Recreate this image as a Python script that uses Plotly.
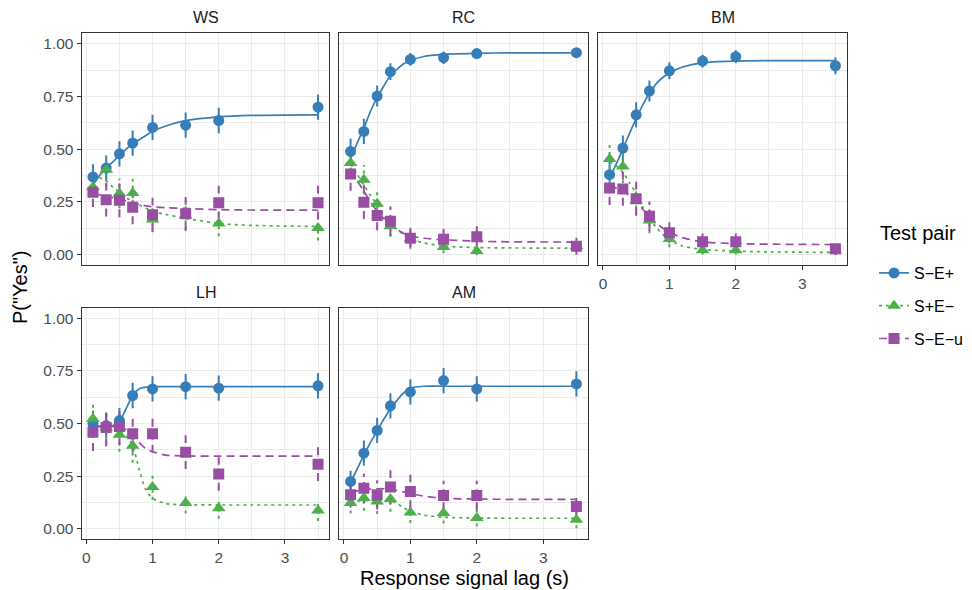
import plotly.graph_objects as go

# Response-signal lags (s) at which P("Yes") was measured
lags = [0.1, 0.3, 0.5, 0.7, 1.0, 1.5, 2.0, 3.5]
# Lags at which the fitted SAT curves are traced
fit_lags = [0.1, 0.2, 0.3, 0.4, 0.5, 0.6, 0.7, 0.8, 0.9, 1.0, 1.2, 1.5, 2.0, 2.5, 3.5]

subjects = ["WS", "RC", "BM", "LH", "AM"]
pairs = ["S−E+", "S+E−", "S−E−u"]

# Observed proportions, one row per test pair (S−E+, S+E−, S−E−u)
WS_obs = [[0.368, 0.410, 0.478, 0.529, 0.603, 0.614, 0.636, 0.699],
          [0.320, 0.402, 0.289, 0.292, 0.166, 0.185, 0.147, 0.126],
          [0.295, 0.260, 0.257, 0.224, 0.189, 0.193, 0.246, 0.246]]
RC_obs = [[0.489, 0.584, 0.752, 0.868, 0.926, 0.934, 0.954, 0.958],
          [0.434, 0.355, 0.241, 0.134, 0.075, 0.036, 0.016, 0.040],
          [0.382, 0.248, 0.185, 0.158, 0.077, 0.072, 0.084, 0.039]]
BM_obs = [[0.379, 0.505, 0.663, 0.776, 0.872, 0.918, 0.939, 0.896],
          [0.453, 0.418, 0.255, 0.161, 0.074, 0.020, 0.020, 0.020],
          [0.315, 0.311, 0.265, 0.181, 0.103, 0.060, 0.060, 0.027]]
LH_obs = [[0.500, 0.490, 0.514, 0.633, 0.664, 0.675, 0.668, 0.679],
          [0.522, 0.480, 0.446, 0.394, 0.198, 0.122, 0.098, 0.087],
          [0.459, 0.481, 0.486, 0.451, 0.451, 0.364, 0.260, 0.307]]
AM_obs = [[0.225, 0.359, 0.467, 0.584, 0.650, 0.704, 0.664, 0.688],
          [0.122, 0.146, 0.130, 0.141, 0.077, 0.075, 0.051, 0.043],
          [0.161, 0.193, 0.161, 0.198, 0.177, 0.158, 0.158, 0.106]]

# Half-widths of the error bars
WS_err = [[0.06, 0.06, 0.06, 0.06, 0.06, 0.06, 0.06, 0.06],
          [0.07, 0.08, 0.07, 0.08, 0.06, 0.07, 0.06, 0.06],
          [0.07, 0.08, 0.08, 0.08, 0.08, 0.08, 0.08, 0.08]]
RC_err = [[0.06, 0.06, 0.05, 0.04, 0.03, 0.03, 0.02, 0.02],
          [0.07, 0.07, 0.06, 0.05, 0.04, 0.03, 0.02, 0.03],
          [0.08, 0.08, 0.07, 0.07, 0.05, 0.05, 0.05, 0.04]]
BM_err = [[0.06, 0.06, 0.06, 0.05, 0.04, 0.03, 0.03, 0.04],
          [0.08, 0.08, 0.07, 0.06, 0.04, 0.02, 0.02, 0.02],
          [0.08, 0.08, 0.08, 0.07, 0.05, 0.04, 0.04, 0.03]]
LH_err = [[0.06, 0.06, 0.06, 0.06, 0.06, 0.06, 0.06, 0.06],
          [0.08, 0.08, 0.08, 0.08, 0.06, 0.05, 0.05, 0.05],
          [0.09, 0.09, 0.09, 0.09, 0.09, 0.08, 0.08, 0.08]]
AM_err = [[0.05, 0.06, 0.06, 0.06, 0.06, 0.06, 0.06, 0.06],
          [0.05, 0.06, 0.06, 0.06, 0.05, 0.05, 0.04, 0.04],
          [0.06, 0.07, 0.07, 0.08, 0.08, 0.07, 0.07, 0.06]]

# Fitted SAT functions evaluated at fit_lags
WS_fit = [[0.330, 0.375, 0.410, 0.440, 0.470, 0.500, 0.525, 0.545, 0.565, 0.585, 0.610, 0.635, 0.653, 0.660, 0.663],
          [0.380, 0.365, 0.350, 0.320, 0.295, 0.270, 0.252, 0.235, 0.220, 0.205, 0.190, 0.172, 0.147, 0.138, 0.133],
          [0.290, 0.283, 0.276, 0.270, 0.263, 0.255, 0.245, 0.237, 0.231, 0.226, 0.222, 0.218, 0.213, 0.211, 0.210]]
RC_fit = [[0.455, 0.530, 0.600, 0.680, 0.745, 0.800, 0.850, 0.880, 0.905, 0.920, 0.940, 0.950, 0.955, 0.957, 0.957],
          [0.430, 0.380, 0.330, 0.280, 0.235, 0.185, 0.145, 0.120, 0.095, 0.075, 0.055, 0.040, 0.033, 0.031, 0.030],
          [0.400, 0.350, 0.300, 0.250, 0.205, 0.170, 0.145, 0.120, 0.100, 0.088, 0.077, 0.070, 0.063, 0.060, 0.059]]
BM_fit = [[0.360, 0.430, 0.500, 0.575, 0.645, 0.710, 0.765, 0.810, 0.840, 0.862, 0.890, 0.910, 0.918, 0.920, 0.920],
          [0.440, 0.420, 0.390, 0.340, 0.290, 0.225, 0.170, 0.130, 0.095, 0.070, 0.040, 0.024, 0.016, 0.012, 0.010],
          [0.330, 0.315, 0.300, 0.280, 0.255, 0.215, 0.180, 0.150, 0.125, 0.105, 0.080, 0.060, 0.052, 0.049, 0.047]]
LH_fit = [[0.488, 0.488, 0.488, 0.490, 0.510, 0.570, 0.633, 0.665, 0.673, 0.675, 0.675, 0.675, 0.675, 0.675, 0.675],
          [0.480, 0.480, 0.480, 0.478, 0.465, 0.440, 0.395, 0.280, 0.185, 0.145, 0.120, 0.114, 0.113, 0.113, 0.113],
          [0.485, 0.485, 0.485, 0.485, 0.483, 0.470, 0.445, 0.410, 0.380, 0.366, 0.350, 0.346, 0.345, 0.345, 0.345]]
AM_fit = [[0.220, 0.285, 0.350, 0.410, 0.465, 0.520, 0.570, 0.610, 0.645, 0.668, 0.677, 0.677, 0.677, 0.677, 0.677],
          [0.130, 0.132, 0.133, 0.135, 0.136, 0.136, 0.133, 0.120, 0.100, 0.085, 0.065, 0.055, 0.051, 0.050, 0.050],
          [0.175, 0.180, 0.185, 0.188, 0.190, 0.190, 0.188, 0.182, 0.175, 0.167, 0.155, 0.145, 0.141, 0.140, 0.140]]

obs = {"WS": WS_obs, "RC": RC_obs, "BM": BM_obs, "LH": LH_obs, "AM": AM_obs}
err = {"WS": WS_err, "RC": RC_err, "BM": BM_err, "LH": LH_err, "AM": AM_err}
fit = {"WS": WS_fit, "RC": RC_fit, "BM": BM_fit, "LH": LH_fit, "AM": AM_fit}

colors = ["#377EB8", "#4DAF4A", "#984EA3"]
symbols = ["circle", "triangle-up", "square"]
msizes = [11, 12, 11]
dashes = ["solid", "3px,4px", "8px,5px"]

W, H = 972, 590
FONT = "Liberation Sans, Arial, Helvetica, sans-serif"

# panel layout in pixels: (left, right), (top, bottom)
cols = [(81.7, 329.3), (339.3, 587.7), (598.3, 846.7)]
rows = [(33.3, 265.0), (307.7, 539.3)]
panel_pos = {"WS": (0, 0), "RC": (0, 1), "BM": (0, 2), "LH": (1, 0), "AM": (1, 1)}
show_x = {"WS": False, "RC": False, "BM": True, "LH": True, "AM": True}
show_y = {"WS": True, "RC": False, "BM": False, "LH": True, "AM": False}

fig = go.Figure()
layout = {}
annotations = []

for i, subj in enumerate(subjects):
    n = i + 1
    xa = "x" if n == 1 else f"x{n}"
    ya = "y" if n == 1 else f"y{n}"
    r, c = panel_pos[subj]
    x0, x1 = cols[c]
    y0, y1 = rows[r]

    # fitted curves
    for k in range(3):
        fig.add_trace(go.Scatter(
            x=fit_lags, y=fit[subj][k], mode="lines", xaxis=xa, yaxis=ya,
            line=dict(color=colors[k], width=1.7, dash=dashes[k], shape="spline", smoothing=0.8),
            showlegend=False, hoverinfo="skip"))
    # error bars
    for k in range(3):
        ex, ey = [], []
        for xv, yv, ev in zip(lags, obs[subj][k], err[subj][k]):
            ex += [xv, xv, None]
            ey += [yv - ev, yv + ev, None]
        fig.add_trace(go.Scatter(
            x=ex, y=ey, mode="lines", xaxis=xa, yaxis=ya,
            line=dict(color=colors[k], width=2, dash=dashes[k]),
            showlegend=False, hoverinfo="skip"))
    # observed points
    for k in range(3):
        fig.add_trace(go.Scatter(
            x=lags, y=obs[subj][k], mode="markers", xaxis=xa, yaxis=ya,
            marker=dict(color=colors[k], symbol=symbols[k], size=msizes[k], line=dict(width=0)),
            showlegend=False, name=pairs[k]))

    axis_common = dict(showline=True, linecolor="#333333", linewidth=1.3, mirror=True,
                       zeroline=False, gridcolor="#EBEBEB", gridwidth=1.1,
                       tickfont=dict(family=FONT, size=15.5, color="#4D4D4D"),
                       tickcolor="#333333", ticklen=4, tickwidth=1.1)
    layout["xaxis" if n == 1 else f"xaxis{n}"] = dict(
        axis_common, domain=[x0 / W, x1 / W], anchor=ya, range=[-0.07, 3.67],
        tickmode="linear", tick0=0, dtick=1, showticklabels=show_x[subj],
        ticks="outside" if show_x[subj] else "",
        minor=dict(tick0=0.5, dtick=1, showgrid=True, gridcolor="#EBEBEB", gridwidth=0.6, ticks=""))
    layout["yaxis" if n == 1 else f"yaxis{n}"] = dict(
        axis_common, domain=[1 - y1 / H, 1 - y0 / H], anchor=xa, range=[-0.05, 1.05],
        tickmode="linear", tick0=0, dtick=0.25, tickformat=".2f", showticklabels=show_y[subj],
        ticks="outside" if show_y[subj] else "",
        minor=dict(tick0=0.125, dtick=0.25, showgrid=True, gridcolor="#EBEBEB", gridwidth=0.6, ticks=""))

    # facet strip label
    annotations.append(dict(
        text=subj, x=(x0 + x1) / 2 / W, y=1 - (y0 - 15.5) / H, xref="paper", yref="paper",
        showarrow=False, xanchor="center", yanchor="middle",
        font=dict(family=FONT, size=16, color="#1A1A1A")))

# legend entries
for k in range(3):
    fig.add_trace(go.Scatter(
        x=[None], y=[None], mode="lines+markers", name=pairs[k], legendgroup=pairs[k],
        line=dict(color=colors[k], width=1.7, dash=dashes[k]),
        marker=dict(color=colors[k], symbol=symbols[k], size=msizes[k])))

annotations.append(dict(
    text="Test pair", x=878 / W, y=1 - 233 / H, xref="paper", yref="paper",
    showarrow=False, xanchor="left", yanchor="middle",
    font=dict(family=FONT, size=20, color="#000000")))
annotations.append(dict(
    text="Response signal lag (s)", x=(cols[0][0] + cols[2][1]) / 2 / W, y=1 - 578 / H,
    xref="paper", yref="paper", showarrow=False, xanchor="center", yanchor="middle",
    font=dict(family=FONT, size=20, color="#000000")))
annotations.append(dict(
    text='P("Yes")', x=20 / W, y=1 - 287 / H, xref="paper", yref="paper", textangle=-90,
    showarrow=False, xanchor="center", yanchor="middle",
    font=dict(family=FONT, size=20, color="#000000")))

fig.update_layout(
    width=W, height=H, margin=dict(l=0, r=0, t=0, b=0),
    paper_bgcolor="white", plot_bgcolor="white",
    annotations=annotations,
    legend=dict(x=874 / W, y=1 - 256 / H, xanchor="left", yanchor="top",
                font=dict(family=FONT, size=16, color="#000000"),
                traceorder="grouped", tracegroupgap=9, bgcolor="rgba(0,0,0,0)"),
    **layout)

fig.write_html("out.html")
